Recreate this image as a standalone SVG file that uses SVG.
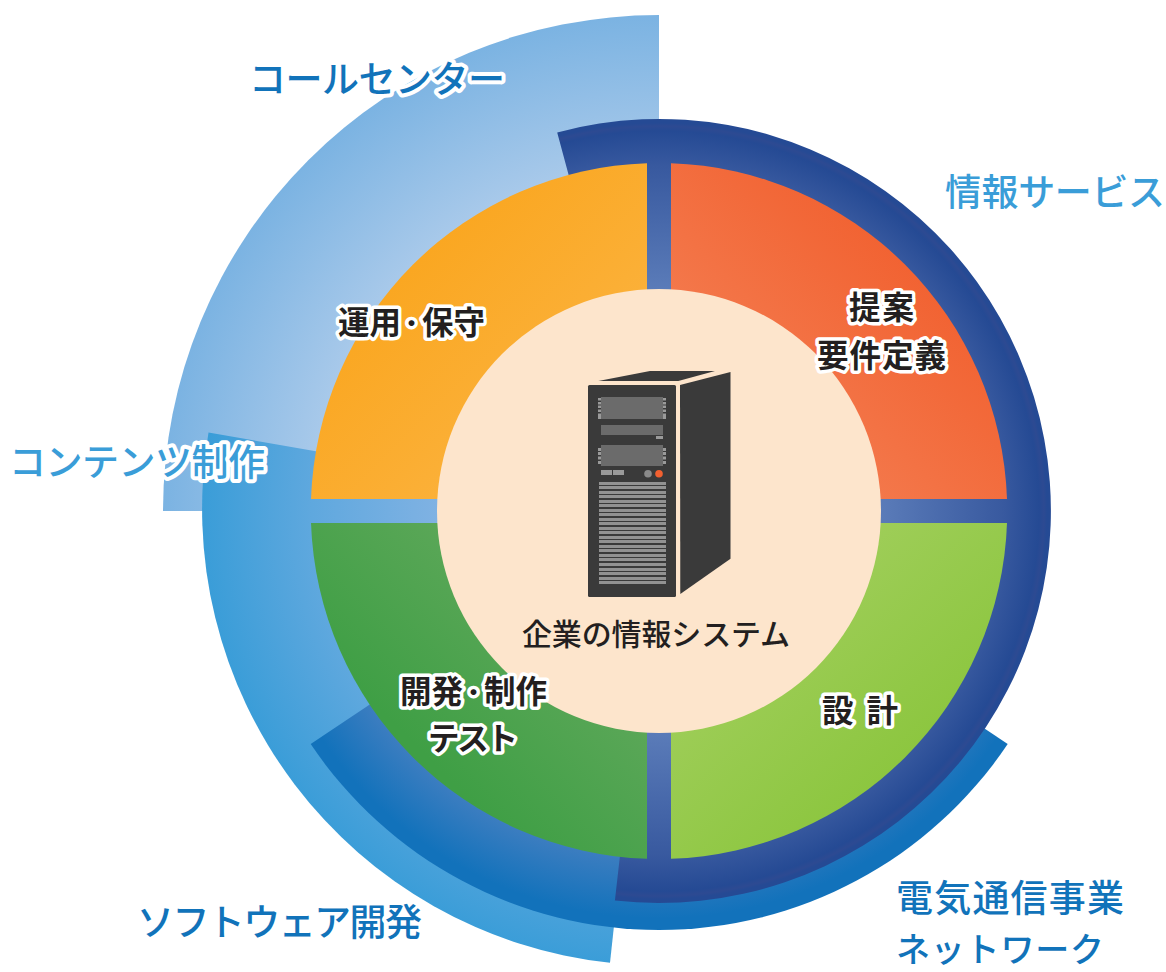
<svg xmlns="http://www.w3.org/2000/svg" width="1166" height="972" viewBox="0 0 1166 972">
<style>
text{font-family:"Noto Sans CJK JP","Noto Sans",sans-serif;paint-order:stroke;stroke:#fff;stroke-linejoin:round}
.big{font-size:37px;font-weight:500;stroke-width:8px}
.in{font-size:31.500px;font-weight:700;fill:#231f20;stroke-width:7px}
.dot{font-size:21px;font-weight:900}
.dk{fill:#1173ba}.lt{fill:#3a9dd8}
.f{fill:#3a3a3a}.p{fill:#6b6b6b}.t{fill:#9a9a9a}
</style>
<defs>
<radialGradient id="gCall" gradientUnits="userSpaceOnUse" cx="659" cy="511" r="496"><stop offset=".45" stop-color="#c6dcf2"/><stop offset=".7" stop-color="#a8c9ea"/><stop offset="1" stop-color="#7bb3e2"/></radialGradient>
<radialGradient id="gCont" gradientUnits="userSpaceOnUse" cx="659" cy="511" r="457"><stop offset=".48" stop-color="#80b2e3"/><stop offset=".76" stop-color="#5fa8de"/><stop offset="1" stop-color="#3a9dd8"/></radialGradient>
<radialGradient id="gTel" gradientUnits="userSpaceOnUse" cx="659" cy="511" r="420"><stop offset=".6" stop-color="#4f86c6"/><stop offset=".83" stop-color="#3b7dc0"/><stop offset=".97" stop-color="#1272bb"/><stop offset="1" stop-color="#1272bb"/></radialGradient>
<radialGradient id="gNavy" gradientUnits="userSpaceOnUse" cx="659" cy="511" r="392"><stop offset=".56" stop-color="#5b7cb9"/><stop offset=".88" stop-color="#38599f"/><stop offset=".97" stop-color="#254a94"/><stop offset=".982" stop-color="#2d4a92"/><stop offset=".99" stop-color="#254a94"/><stop offset="1" stop-color="#254a94"/></radialGradient>
<linearGradient id="gRed" gradientUnits="userSpaceOnUse" x1="690" y1="480" x2="930" y2="240"><stop offset="0" stop-color="#f5855a"/><stop offset="1" stop-color="#f15f2e"/></linearGradient>
<linearGradient id="gOr" gradientUnits="userSpaceOnUse" x1="640" y1="490" x2="400" y2="250"><stop offset="0" stop-color="#fcb749"/><stop offset="1" stop-color="#faa61f"/></linearGradient>
<linearGradient id="gLg" gradientUnits="userSpaceOnUse" x1="680" y1="530" x2="900" y2="770"><stop offset="0" stop-color="#aad268"/><stop offset="1" stop-color="#8cc63f"/></linearGradient>
<linearGradient id="gDg" gradientUnits="userSpaceOnUse" x1="640" y1="530" x2="420" y2="750"><stop offset="0" stop-color="#70ad66"/><stop offset="1" stop-color="#3f9f45"/></linearGradient>
</defs>
<g id="rings">
<path id="call-center" fill="url(#gCall)" d="M659 511V15A496 496 0 0 0 163 511Z"/>
<path id="contents" fill="url(#gCont)" d="M659 511L208.500 432.500A456.500 456.500 0 0 0 610 962.700Z"/>
<path id="telecom" fill="url(#gTel)" d="M659 511L310.700 744A419.500 419.500 0 0 0 1007.700 744Z"/>
<path id="info" fill="url(#gNavy)" d="M659 511L614.900 900.500A392 392 0 1 0 557.200 132.400Z"/>
</g>
<g id="quadrants">
<path id="q-red" fill="url(#gRed)" d="M671 499V163.200A348 348 0 0 1 1007 499Z"/>
<path id="q-orange" fill="url(#gOr)" d="M647 499V163.200A348 348 0 0 0 311 499Z"/>
<path id="q-lightgreen" fill="url(#gLg)" d="M671 523V858.800A348 348 0 0 0 1007 523Z"/>
<path id="q-green" fill="url(#gDg)" d="M647 523V858.800A348 348 0 0 1 311 523Z"/>
</g>
<circle id="core" cx="659" cy="511" r="222" fill="#fde5cc"/>
<g id="server">
<path class="f" d="M598.300 381L650 371H715L678.300 381Z"/>
<rect class="f" x="588" y="385" width="88" height="212" rx="1.500"/>
<path class="f" d="M680 385L730.500 372V558.700L680.300 594Z"/>
<path class="p" d="M601 397h62v22h-62zM601 425h62v10h-62zM601 445h62v21h-62z"/>
<path class="t" d="M598 398h3v2.500h-3zM598 402h3v2.500h-3zM598 405.500h3v2.500h-3zM598 409.500h3v2.500h-3zM598 413.500h3v2.500h-3zM598 416h3v3h-3zM663 398h3v2.500h-3zM663 402h3v2.500h-3zM663 405.500h3v2.500h-3zM663 409.500h3v2.500h-3zM663 413.500h3v2.500h-3zM663 416h3v3h-3zM656 436h7v3h-7zM598 448h3v3h-3zM598 452h3v3h-3zM598 456.500h3v3h-3zM598 461h3v3h-3zM663 448h3v3h-3zM663 452h3v3h-3zM663 456.500h3v3h-3zM663 461h3v3h-3zM601 470h11v5h-11zM613 470h11v5h-11z"/>
<circle cx="648" cy="473.700" r="3.800" fill="#8a8a8a"/>
<circle cx="659" cy="473.700" r="3.800" fill="#f26030"/>
<path fill="#929292" d="M599 482h67v3h-67zM599 486h67v3h-67zM599 491h67v3h-67zM599 495h67v3h-67zM599 500h67v3h-67zM599 504h67v3h-67zM599 509h67v3h-67zM599 513h67v3h-67zM599 518h67v3h-67zM599 522h67v3h-67zM599 527h67v3h-67zM599 531h67v3h-67zM599 536h67v3h-67zM599 540h67v3h-67zM599 545h67v3h-67zM599 549h67v3h-67zM599 554h67v3h-67zM599 558h67v3h-67zM599 563h67v3h-67zM599 568h67v3h-67zM599 572h67v3h-67zM599 577h67v3h-67zM599 581h67v3h-67z"/>
</g>
<g id="labels">
<text class="big dk" x="249" y="93" textLength="256">コールセンター</text>
<text class="big lt" x="945" y="206" textLength="220">情報サービス</text>
<text class="big lt" x="9" y="476" textLength="256">コンテンツ制作</text>
<text class="big dk" x="137" y="936" textLength="285">ソフトウェア開発</text>
<text class="big dk" x="896" y="912" textLength="228" style="stroke:none">電気通信事業</text>
<text class="big dk" x="896" y="962" textLength="208" style="stroke:none;font-size:34px">ネットワーク</text>
<text class="in" x="338" y="334">運用<tspan class="dot" dy="-3.500">・</tspan><tspan dy="3.500">保守</tspan></text>
<text class="in" x="849" y="319" textLength="65">提案</text>
<text class="in" x="817" y="367" textLength="129">要件定義</text>
<text class="in" x="400" y="703">開発<tspan class="dot" dy="-3.500">・</tspan><tspan dy="3.500">制作</tspan></text>
<text class="in" x="428" y="750" textLength="90">テスト</text>
<text class="in" x="822" y="722" textLength="76">設 計</text>
<text class="in" x="522" y="645" textLength="268" style="font-size:30px;font-weight:500;stroke:none">企業の情報システム</text>
</g>
</svg>
